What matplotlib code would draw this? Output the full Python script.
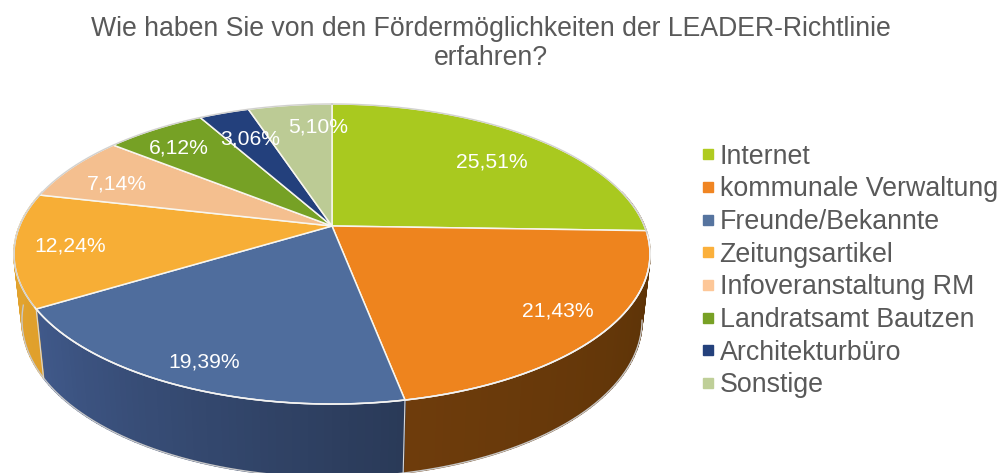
import numpy as np
import matplotlib
matplotlib.use("Agg")
import matplotlib.pyplot as plt
from matplotlib.collections import PolyCollection
from matplotlib.lines import Line2D

plt.rcParams['font.family'] = ['Liberation Sans', 'DejaVu Sans']

# ---- data ----
categories = ["Internet", "kommunale Verwaltung", "Freunde/Bekannte", "Zeitungsartikel",
              "Infoveranstaltung RM", "Landratsamt Bautzen", "Architekturbüro", "Sonstige"]
values = [25.51, 21.43, 19.39, 12.24, 7.14, 6.12, 3.06, 5.10]
title = "Wie haben Sie von den Fördermöglichkeiten der LEADER-Richtlinie\nerfahren?"

# ---- styles ----
top_colors = ["#a9c91f", "#ee841e", "#4f6d9d", "#f7ae36", "#f4bf8f", "#76a125", "#23407c", "#bccb95"]
side_start = ["#5f6f10", "#5a3206", "#2a3a58", "#e0a02c", "#c09060", "#4f6d18", "#162a52", "#8f9c70"]
side_end   = ["#5a3206", "#6e3c0c", "#40598a", "#e3a530", "#c09060", "#4f6d18", "#162a52", "#8f9c70"]
legend_colors = ["#b0cb20", "#f08522", "#56749f", "#fbb03b", "#fdc798", "#78a125", "#24417c", "#bfcf98"]
label_px = [(492, 162), (558, 311), (204, 362), (70, 246), (117, 184), (179, 148), (250, 139), (318, 127)]

# ---- projection of the tilted disc ----
CX, CY, RX, RY, P = 332.0, 226.0, 312.4, 144.8, 0.1867
DEPTH_MID, DEPTH_FRONT, SHRINK = 64.5, 8.7, 0.975


def top_xy(theta):
    w = 1 + P * np.cos(theta)
    return CX + RX * np.sin(theta) / w, CY - RY * np.cos(theta) / w


def bottom_xy(theta):
    x, y = top_xy(theta)
    return CX + (x - CX) * SHRINK, y + DEPTH_MID - DEPTH_FRONT * np.cos(theta)


def rgb(c):
    return np.array(matplotlib.colors.to_rgb(c))


fig = plt.figure(figsize=(10, 4.73), dpi=100)
ax = fig.add_axes([0, 0, 1, 1])
ax.set_xlim(0, 1000)
ax.set_ylim(473, 0)
ax.axis("off")

fractions = np.array(values) / np.sum(values)
edges = np.concatenate([[0], np.cumsum(fractions)]) * 2 * np.pi

# side wall first, top face covers the hidden part
polys, cols = [], []
for i in range(len(values)):
    th = np.linspace(edges[i], edges[i + 1], max(3, int(values[i] * 3)))
    for k in range(len(th) - 1):
        if np.cos((th[k] + th[k + 1]) / 2) > 0.25:
            continue
        xa, ya = top_xy(th[k]); xb, yb = top_xy(th[k + 1])
        xc, yc = bottom_xy(th[k + 1]); xd, yd = bottom_xy(th[k])
        polys.append([(xa, ya), (xb, yb), (xc, yc), (xd, yd)])
        t = k / (len(th) - 2)
        cols.append((1 - t) * rgb(side_start[i]) + t * rgb(side_end[i]))
ax.add_collection(PolyCollection(polys, facecolors=cols, edgecolors=cols, linewidths=1.2, zorder=2))

# outer bottom silhouette
th = np.linspace(np.pi * 0.56, np.pi * 1.47, 300)
bx, by = bottom_xy(th)
ax.plot(bx, by, color="#c8c8c8", lw=1.0, zorder=3)

# separators on the wall
for e in edges[1:]:
    if np.cos(e) < -0.1:
        xt, yt = top_xy(e); xb2, yb2 = bottom_xy(e)
        ax.plot([xt, xb2], [yt, yb2], color="#d8d8d8", lw=0.8, zorder=3)

# top face
for i in range(len(values)):
    th = np.linspace(edges[i], edges[i + 1], 120)
    x, y = top_xy(th)
    ax.fill(np.r_[CX, x], np.r_[CY, y], facecolor=top_colors[i], edgecolor="#f8f6ee", lw=1.1, zorder=4,
            joinstyle="round")

th = np.linspace(0, 2 * np.pi, 500)
x, y = top_xy(th)
ax.plot(x, y, color="#d0d0d0", lw=0.9, zorder=5)
th = np.linspace(np.pi * 0.52, np.pi * 1.33, 300)
x, y = top_xy(th)
ax.plot(x, y, color="#f4f4f4", lw=1.1, zorder=5)

# data labels
for v, (lx, ly) in zip(values, label_px):
    ax.text(lx, ly, f"{v:.2f}%".replace(".", ","), color="white", fontsize=15.2,
            ha="center", va="center", zorder=6)

ax.text(491, 43.5, title, fontsize=19.2, color="#595959", ha="center", va="center", linespacing=1.18)

handles = [Line2D([], [], ls="none", marker="s", ms=7.8, mfc=c, mec=c, label=n)
           for c, n in zip(legend_colors, categories)]
ax.legend(handles=handles, loc="center left", bbox_to_anchor=(700, 271), bbox_transform=ax.transData,
          frameon=False, fontsize=19.3, labelcolor="#595959", labelspacing=0.25,
          handlelength=0.62, handletextpad=0.11, borderpad=0, borderaxespad=0)

fig.savefig("out.png", dpi=100)
